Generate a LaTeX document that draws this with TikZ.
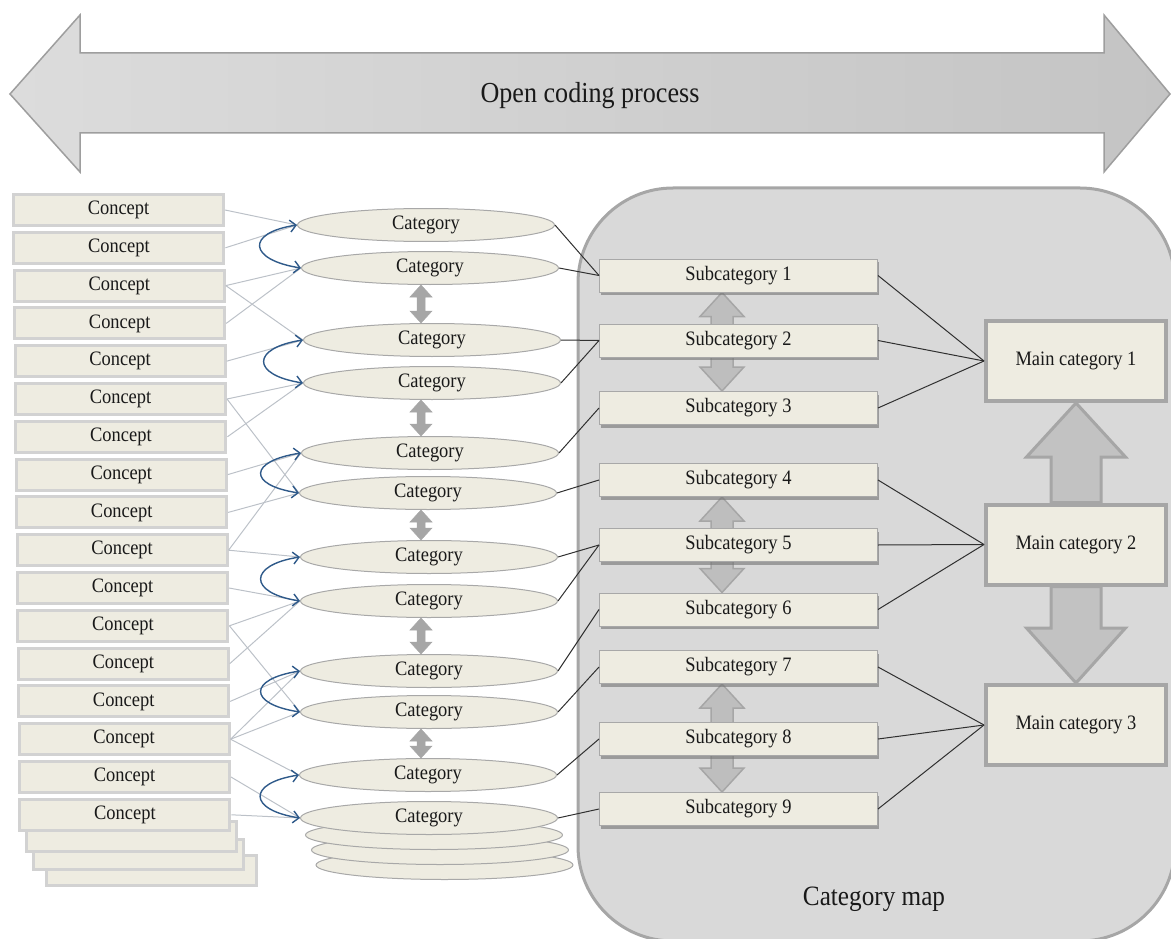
\documentclass[tikz,border=0pt]{standalone}
\usepackage{fontspec}
\setmainfont{Liberation Serif}[FakeStretch=0.9]
\usetikzlibrary{arrows.meta,shadows,calc,shapes.geometric}
\definecolor{beige}{HTML}{EEECE1}
\definecolor{cborder}{HTML}{D2D2D2}
\definecolor{mapfill}{HTML}{D9D9D9}
\definecolor{mapborder}{HTML}{A6A6A6}
\definecolor{elborder}{HTML}{A8A8A8}
\definecolor{thinline}{HTML}{BCC1C8}
\definecolor{bluearr}{HTML}{2F5A8A}
\definecolor{darkline}{HTML}{303030}
\definecolor{arrgray}{HTML}{A6A6A6}
\definecolor{subarr}{HTML}{BEBEBE}
\definecolor{bigfill}{HTML}{C2C2C2}
\definecolor{topleft}{HTML}{DCDCDC}
\definecolor{topright}{HTML}{C4C4C4}
\pgfdeclarelayer{bg}
\pgfdeclarelayer{mid}
\pgfsetlayers{bg,mid,main}
\newcommand\mydblarrow[6]{%
  \draw[#6] (#1) -- ($(#1)+(#4,#5)$) -- ($(#1)+(#3,#5)$) -- ($(#2)+(#3,-#5)$) -- ($(#2)+(#4,-#5)$) -- (#2) -- ($(#2)+(-#4,-#5)$) -- ($(#2)+(-#3,-#5)$) -- ($(#1)+(-#3,#5)$) -- ($(#1)+(-#4,#5)$) -- cycle;}
\begin{document}
\begin{tikzpicture}[x=1pt,y=-1pt,
  txt/.style={font=\fontsize{20.5}{22}\selectfont, text=black!90},
  conceptbox/.style={txt, draw=cborder, line width=3pt, fill=beige, minimum width=210pt, minimum height=31pt, inner sep=0pt},
  emptybox/.style={draw=cborder, line width=3pt, fill=beige, minimum width=210pt, minimum height=30pt, inner sep=0pt},
  catell/.style={txt, ellipse, draw=elborder, line width=1pt, fill=beige, minimum width=257pt, minimum height=33pt, inner sep=0pt},
  emptyell/.style={ellipse, draw=elborder, line width=1pt, fill=beige, minimum width=257pt, minimum height=29pt, inner sep=0pt},
  subbox/.style={txt, draw=elborder, line width=1pt, fill=beige, minimum width=278pt, minimum height=33pt, inner sep=0pt,
     drop shadow={shadow xshift=1pt, shadow yshift=-3pt, fill=black!55, opacity=0.6}},
  mainbox/.style={txt, draw=mapborder, line width=4pt, fill=beige, minimum width=180pt, minimum height=80pt, inner sep=0pt},
  thinconn/.style={draw=thinline, line width=1pt},
  darkconn/.style={draw=darkline, line width=1pt},
  bluecurve/.style={draw=bluearr, line width=1.4pt, {Straight Barb[length=6pt,width=12pt]}-{Straight Barb[length=6pt,width=12pt]}},
  catdbl/.style={fill=arrgray, draw=arrgray, line width=0.5pt},
  subdbl/.style={fill=subarr, draw=arrgray, line width=1.5pt},
  bigarr/.style={fill=bigfill, draw=mapborder, line width=3pt, line join=miter},
  topdbl/.style={left color=topleft, right color=topright, draw=black!38, line width=1.5pt}
]
\useasboundingbox (0,0) rectangle (1171,939);

% top arrow
\path[topdbl] (10,94) -- (80,15) -- (80,53) -- (1104,53) -- (1104,15) -- (1170,94) -- (1104,172) -- (1104,133) -- (80,133) -- (80,172) -- cycle;
\node[font=\fontsize{29}{31}\selectfont, text=black!90] (title) at (590,96) {Open coding process};

% category map
\begin{pgfonlayer}{bg}
\draw[fill=mapfill, draw=mapborder, line width=3pt, rounded corners=95pt] (578,188) rectangle (1175,941);
\end{pgfonlayer}
\node[font=\fontsize{28}{30}\selectfont, text=black!90] (maplabel) at (874,899) {Category map};

% concept stack
\node[emptybox] (cb3) at (151.5,870) {};
\node[emptybox] (cb2) at (138,854.5) {};
\node[emptybox] (cb1) at (131,836) {};
\foreach \i in {1,...,17} {
  \pgfmathsetmacro\cx{118.5+0.4*(\i-1)}
  \pgfmathsetmacro\cy{210+37.8*(\i-1)}
  \node[conceptbox] (c\i) at (\cx,\cy) {Concept};
}

% categories
\node[emptyell] (e3) at (444.5,865) {};
\node[emptyell] (e2) at (440,850) {};
\node[emptyell] (e1) at (434,835) {};
\foreach \n/\x/\y in {1/426/225, 2/430/268, 3/432/340, 4/432/383, 5/430/453, 6/428/493, 7/429/557, 8/429/601, 9/429/671, 10/429/712, 11/428/775, 12/429/818}
  \node[catell] (k\n) at (\x,\y) {Category};

% subcategories
\foreach \n/\y in {1/275.5, 2/340.5, 3/408, 4/480, 5/545, 6/609.5, 7/667, 8/739, 9/809}
  \node[subbox] (s\n) at (738.5,\y) {Subcategory \n};

% main categories
\node[mainbox] (m1) at (1076,361) {Main category 1};
\node[mainbox] (m2) at (1076,544.5) {Main category 2};
\node[mainbox] (m3) at (1076,725) {Main category 3};

% concept -> category
\foreach \a/\b in {1/1, 2/1, 3/2, 3/3, 4/2, 5/3, 6/4, 6/6, 7/4, 8/5, 9/6, 10/5, 10/7, 11/8, 12/8, 12/10, 13/8, 14/9, 15/9, 15/10, 15/11, 16/12, 17/12}
  \draw[thinconn] (c\a.east) -- (k\b.west);

% blue curves
\foreach \a/\b in {1/2, 3/4, 5/6, 7/8, 9/10, 11/12}
  \draw[bluecurve] (k\a.west) .. controls +(-52,8) and +(-52,-8) .. (k\b.west);

% category double arrows
\coordinate (ax) at (421,0);
\foreach \a/\b/\n in {2/3/1, 4/5/2, 6/7/3, 8/9/4, 10/11/5} {
  \coordinate (kt\n) at (ax |- k\a.south);
  \coordinate (kb\n) at (ax |- k\b.north);
  \mydblarrow{kt\n}{kb\n}{4}{11}{12}{catdbl}
}

% subcategory double arrows
\coordinate (sx) at (722,0);
\begin{pgfonlayer}{mid}
\foreach \a/\b/\n in {1/3/1, 4/6/2, 7/9/3} {
  \coordinate (st\n) at (sx |- s\a.south);
  \coordinate (sb\n) at (sx |- s\b.north);
  \mydblarrow{st\n}{sb\n}{11}{22}{24}{subdbl}
}
\end{pgfonlayer}

% category -> subcategory
\foreach \a/\b in {1/1, 2/1, 3/2, 4/2, 5/3, 6/4, 7/5, 8/5, 9/6, 10/7, 11/8, 12/9}
  \draw[darkconn] (k\a.east) -- (s\b.west);

% subcategory -> main
\foreach \a/\b in {1/1, 2/1, 3/1, 4/2, 5/2, 6/2, 7/3, 8/3, 9/3}
  \draw[darkconn] (s\a.east) -- (m\b.west);

% main arrows
\draw[bigarr] (m1.south) -- ($(m1.south)+(49.5,54)$) -- ($(m1.south)+(25,54)$) -- ($(m2.north)+(25,0)$) -- ($(m2.north)+(-25,0)$) -- ($(m1.south)+(-25,54)$) -- ($(m1.south)+(-49.5,54)$) -- cycle;
\draw[bigarr] ($(m2.south)+(-25,0)$) -- ($(m2.south)+(25,0)$) -- ($(m3.north)+(25,-55)$) -- ($(m3.north)+(49.5,-55)$) -- (m3.north) -- ($(m3.north)+(-49.5,-55)$) -- ($(m3.north)+(-25,-55)$) -- cycle;
\end{tikzpicture}
\end{document}
